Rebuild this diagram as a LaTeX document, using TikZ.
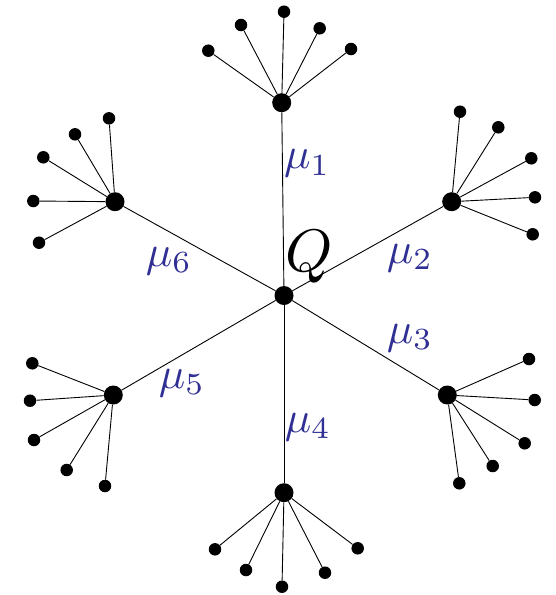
\documentclass[tikz,border=0pt]{standalone}
\definecolor{mublue}{RGB}{48,48,148}
\begin{document}
\begin{tikzpicture}[x=1pt,y=-1pt,
  hub/.style={circle,fill=black,inner sep=0pt,minimum size=19pt},
  leaf/.style={circle,fill=black,inner sep=0pt,minimum size=12.5pt},
  edge/.style={line width=0.9pt},
  mulab/.style={text=mublue,inner sep=0pt,scale=4.4},
  qlab/.style={inner sep=0pt,scale=6}]
\useasboundingbox (0,0) rectangle (555,595);
% center
\node[hub] (Q) at (284,295.5) {};
% hubs
\node[hub] (h1) at (281.7,102.7) {};
\node[hub] (h2) at (451.7,201.7) {};
\node[hub] (h3) at (447.3,395) {};
\node[hub] (h4) at (284,492.7) {};
\node[hub] (h5) at (113.3,395) {};
\node[hub] (h6) at (115,201.7) {};
% leaves of h1
\node[leaf] (a1) at (208.3,50.7) {};
\node[leaf] (a2) at (241,25) {};
\node[leaf] (a3) at (284,11.7) {};
\node[leaf] (a4) at (319.7,28.3) {};
\node[leaf] (a5) at (351,49) {};
% leaves of h2
\node[leaf] (b1) at (460,111.7) {};
\node[leaf] (b2) at (498.3,127.3) {};
\node[leaf] (b3) at (531.3,158.3) {};
\node[leaf] (b4) at (535,197.3) {};
\node[leaf] (b5) at (532.7,234.3) {};
% leaves of h3
\node[leaf] (c1) at (529,359) {};
\node[leaf] (c2) at (534.7,400) {};
\node[leaf] (c3) at (524.7,443.3) {};
\node[leaf] (c4) at (492.7,466) {};
\node[leaf] (c5) at (459.3,483.3) {};
% leaves of h4
\node[leaf] (d1) at (215,549.3) {};
\node[leaf] (d2) at (246,570) {};
\node[leaf] (d3) at (282,586.7) {};
\node[leaf] (d4) at (325,572.7) {};
\node[leaf] (d5) at (357.7,548.3) {};
% leaves of h5
\node[leaf] (e1) at (32.3,363.3) {};
\node[leaf] (e2) at (30,400.7) {};
\node[leaf] (e3) at (34,440) {};
\node[leaf] (e4) at (66.7,470) {};
\node[leaf] (e5) at (105,486) {};
% leaves of h6
\node[leaf] (f1) at (109,118.3) {};
\node[leaf] (f2) at (75,134.3) {};
\node[leaf] (f3) at (43.3,157.3) {};
\node[leaf] (f4) at (33.3,201) {};
\node[leaf] (f5) at (39,242.7) {};
% edges
\foreach \h in {h1,h2,h3,h4,h5,h6} \draw[edge] (Q) -- (\h);
\foreach \i in {1,...,5} {
  \draw[edge] (h1) -- (a\i);
  \draw[edge] (h2) -- (b\i);
  \draw[edge] (h3) -- (c\i);
  \draw[edge] (h4) -- (d\i);
  \draw[edge] (h5) -- (e\i);
  \draw[edge] (h6) -- (f\i);
}
% labels
\node[qlab] (lq) at (309,257) {$Q$};
\node[mulab] (m1) at (307.3,163.3) {$\mu_1$};
\node[mulab] (m2) at (410,258) {$\mu_2$};
\node[mulab] (m3) at (410,338) {$\mu_3$};
\node[mulab] (m4) at (308,427) {$\mu_4$};
\node[mulab] (m5) at (182,383) {$\mu_5$};
\node[mulab] (m6) at (169,261) {$\mu_6$};
\end{tikzpicture}
\end{document}
